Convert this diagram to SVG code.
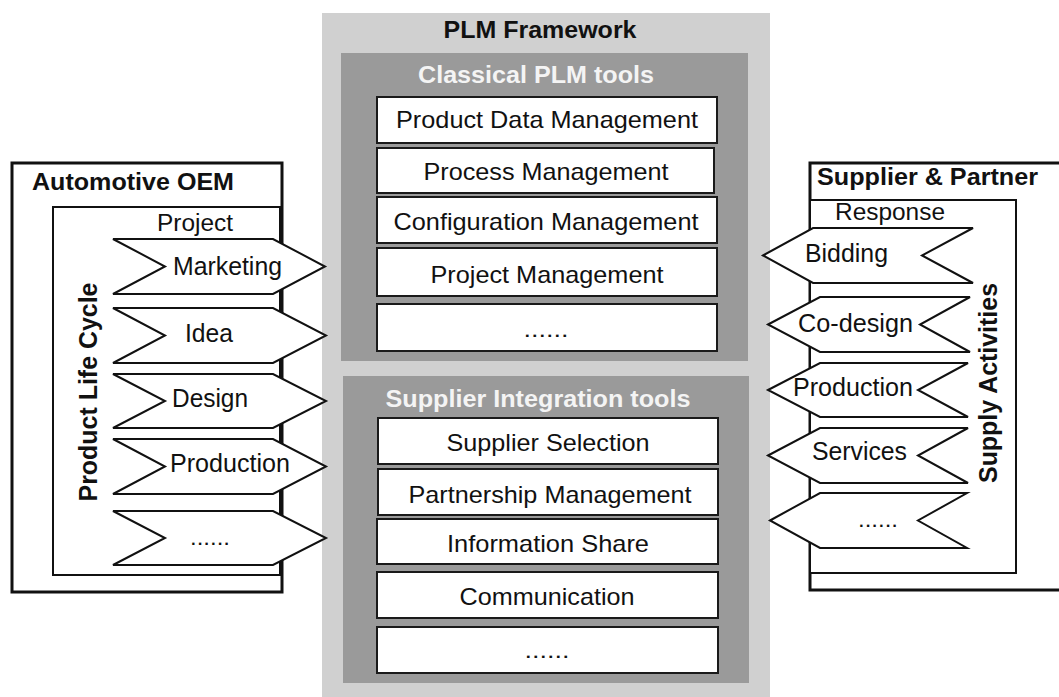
<svg xmlns="http://www.w3.org/2000/svg" width="1059" height="697" viewBox="0 0 1059 697">
<style>
.t{font-family:"Liberation Sans",Arial,sans-serif;fill:#111;}
.b{font-weight:bold;}
.box{fill:#fff;stroke:#1a1a1a;stroke-width:2;}
.chev{fill:#fff;stroke:#111;stroke-width:2;stroke-linejoin:miter;}
.frame{fill:#fff;stroke:#111;}
.wt{fill:#f4f4f4;}
</style>
<rect width="1059" height="697" fill="#fff"/>
<g id="plm-framework">
<rect x="322" y="13" width="448" height="684" fill="#d0d0d0"/>
<text class="t b" x="540" y="38" font-size="23" text-anchor="middle" textLength="193" lengthAdjust="spacingAndGlyphs">PLM Framework</text>
</g>
<g id="classical-plm-tools">
<rect x="341" y="53" width="407" height="308" fill="#9a9a9a"/>
<text class="t b wt" x="536" y="83" font-size="23" text-anchor="middle" textLength="236" lengthAdjust="spacingAndGlyphs">Classical PLM tools</text>
</g>
<g id="pdm"><rect class="box" x="377" y="97" width="340" height="46"/><text class="t" x="547" y="128" font-size="24" text-anchor="middle" textLength="302" lengthAdjust="spacingAndGlyphs">Product Data Management</text></g>
<g id="process-mgmt"><rect class="box" x="377" y="148" width="337" height="45"/><text class="t" x="546" y="180" font-size="24" text-anchor="middle" textLength="245" lengthAdjust="spacingAndGlyphs">Process Management</text></g>
<g id="config-mgmt"><rect class="box" x="377" y="197" width="340" height="46"/><text class="t" x="546" y="230" font-size="24" text-anchor="middle" textLength="305" lengthAdjust="spacingAndGlyphs">Configuration Management</text></g>
<g id="project-mgmt"><rect class="box" x="377" y="248" width="340" height="48"/><text class="t" x="547" y="283" font-size="24" text-anchor="middle" textLength="233" lengthAdjust="spacingAndGlyphs">Project Management</text></g>
<g id="classical-more"><rect class="box" x="377" y="304" width="340" height="47"/><text class="t" x="546" y="337" font-size="22" text-anchor="middle" textLength="45" lengthAdjust="spacingAndGlyphs">......</text></g>
<g id="supplier-integration-tools">
<rect x="343" y="376" width="406" height="307" fill="#9a9a9a"/>
<text class="t b wt" x="538" y="407" font-size="23" text-anchor="middle" textLength="305" lengthAdjust="spacingAndGlyphs">Supplier Integration tools</text>
</g>
<g id="supplier-selection"><rect class="box" x="378" y="418" width="340" height="46"/><text class="t" x="548" y="451" font-size="24" text-anchor="middle" textLength="203" lengthAdjust="spacingAndGlyphs">Supplier Selection</text></g>
<g id="partnership-mgmt"><rect class="box" x="378" y="469" width="340" height="46"/><text class="t" x="550" y="503" font-size="24" text-anchor="middle" textLength="283" lengthAdjust="spacingAndGlyphs">Partnership Management</text></g>
<g id="information-share"><rect class="box" x="377" y="519" width="341" height="45"/><text class="t" x="548" y="552" font-size="24" text-anchor="middle" textLength="202" lengthAdjust="spacingAndGlyphs">Information Share</text></g>
<g id="communication"><rect class="box" x="377" y="572" width="341" height="46"/><text class="t" x="547" y="605" font-size="24" text-anchor="middle" textLength="175" lengthAdjust="spacingAndGlyphs">Communication</text></g>
<g id="integration-more"><rect class="box" x="377" y="627" width="341" height="46"/><text class="t" x="547" y="658" font-size="22" text-anchor="middle" textLength="45" lengthAdjust="spacingAndGlyphs">......</text></g>

<g id="automotive-oem">
<rect class="frame" x="12" y="163" width="270" height="429" stroke-width="3"/>
<text class="t b" x="32" y="190" font-size="23" textLength="202" lengthAdjust="spacingAndGlyphs">Automotive OEM</text>
<rect class="frame" x="53" y="207" width="227" height="368" stroke-width="2"/>
<text class="t" x="157" y="231" font-size="23" textLength="76" lengthAdjust="spacingAndGlyphs">Project</text>
<text class="t b" transform="translate(97,392) rotate(-90)" x="0" y="0" font-size="25" text-anchor="middle" textLength="219" lengthAdjust="spacingAndGlyphs">Product Life Cycle</text>
</g>
<g id="lc-marketing"><polygon class="chev" points="113,239 273,239 325,266.5 273,294 113,294 165,266.5"/><text class="t" x="173" y="275" font-size="25" textLength="109" lengthAdjust="spacingAndGlyphs">Marketing</text></g>
<g id="lc-idea"><polygon class="chev" points="113,308 273,308 326,335.5 273,363 113,363 165,335.5"/><text class="t" x="185" y="342" font-size="25" textLength="48" lengthAdjust="spacingAndGlyphs">Idea</text></g>
<g id="lc-design"><polygon class="chev" points="113,374 273,374 326,401 273,428 113,428 165,401"/><text class="t" x="172" y="407" font-size="25" textLength="76" lengthAdjust="spacingAndGlyphs">Design</text></g>
<g id="lc-production"><polygon class="chev" points="113,439 273,439 326,466.5 273,494 113,494 165,466.5"/><text class="t" x="170" y="472" font-size="25" textLength="120" lengthAdjust="spacingAndGlyphs">Production</text></g>
<g id="lc-more"><polygon class="chev" points="113,511 273,511 326,538 273,565 113,565 165,538"/><text class="t" x="190" y="545" font-size="22" textLength="40" lengthAdjust="spacingAndGlyphs">......</text></g>

<g id="supplier-partner">
<rect class="frame" x="810" y="163" width="262" height="427" stroke-width="3"/>
<text class="t b" x="817" y="185" font-size="23" textLength="221" lengthAdjust="spacingAndGlyphs">Supplier &amp; Partner</text>
<rect class="frame" x="810" y="200" width="206" height="373" stroke-width="2"/>
<text class="t" x="835" y="220" font-size="23" textLength="110" lengthAdjust="spacingAndGlyphs">Response</text>
<text class="t b" transform="translate(997,383) rotate(-90)" x="0" y="0" font-size="25" text-anchor="middle" textLength="200" lengthAdjust="spacingAndGlyphs">Supply Activities</text>
</g>
<g id="sa-bidding"><polygon class="chev" points="763,255.5 813,228 973,228 922,255.5 973,283 813,283"/><text class="t" x="805" y="262" font-size="25" textLength="83" lengthAdjust="spacingAndGlyphs">Bidding</text></g>
<g id="sa-codesign"><polygon class="chev" points="768,324.5 820,297 970,297 920,324.5 970,352 820,352"/><text class="t" x="798" y="332" font-size="25" textLength="115" lengthAdjust="spacingAndGlyphs">Co-design</text></g>
<g id="sa-production"><polygon class="chev" points="768,390 820,363 968,363 918,390 968,417 820,417"/><text class="t" x="793" y="396" font-size="25" textLength="120" lengthAdjust="spacingAndGlyphs">Production</text></g>
<g id="sa-services"><polygon class="chev" points="768,455.5 820,428 968,428 918,455.5 968,483 820,483"/><text class="t" x="812" y="460" font-size="25" textLength="95" lengthAdjust="spacingAndGlyphs">Services</text></g>
<g id="sa-more"><polygon class="chev" points="770,520.5 820,493 967,493 918,520.5 967,548 820,548"/><text class="t" x="858" y="527" font-size="22" textLength="40" lengthAdjust="spacingAndGlyphs">......</text></g>
<g id="connectors"></g>
</svg>
